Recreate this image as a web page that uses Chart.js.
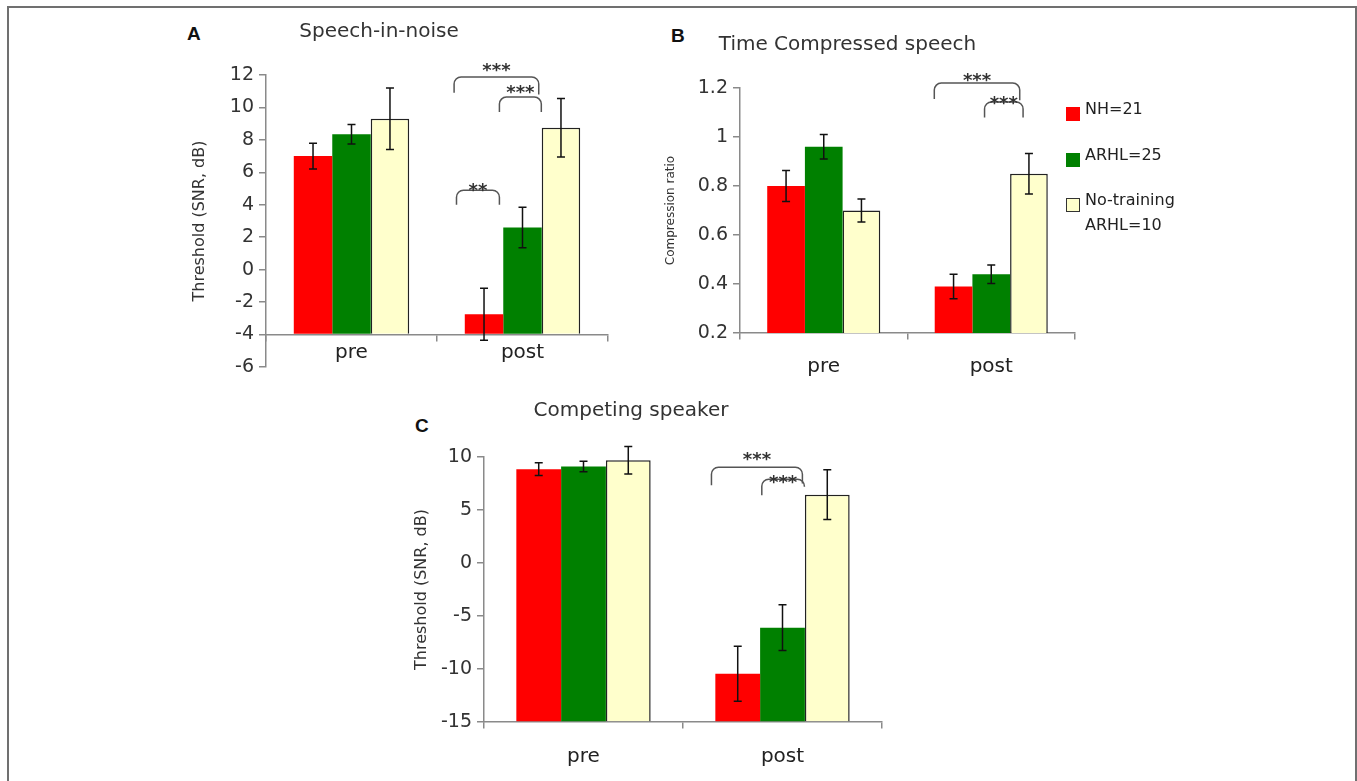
<!DOCTYPE html>
<html>
<head>
<meta charset="utf-8">
<script src="https://cdn.jsdelivr.net/npm/chart.js@4.4.1/dist/chart.umd.min.js"></script>
<style>
html, body { margin: 0; padding: 0; background: #fff; }
#page { position: relative; width: 1357px; height: 781px; overflow: hidden; font-family: "DejaVu Sans", sans-serif; }
#frame { position: absolute; left: 7px; top: 6px; width: 1350px; height: 800px; box-sizing: border-box;
         border: 2px solid #707070; border-bottom: none; }
canvas { position: absolute; }
.panel { position: absolute; font: bold 19px "Liberation Sans", Arial, sans-serif; color: #111; line-height: 19px; }
.leg-box { position: absolute; width: 14px; height: 14px; box-sizing: border-box; }
.leg-txt { position: absolute; font-size: 16px; line-height: 25px; color: #222; width: 100px; }
</style>
</head>
<body>
<div id="page">
  <div id="frame"></div>
  <div class="panel" style="left:187px;top:24px">A</div>
  <div class="panel" style="left:671px;top:26px">B</div>
  <div class="panel" style="left:415px;top:416px">C</div>
  <canvas id="chartA" width="540" height="400" style="left:150px;top:0px"></canvas>
  <canvas id="chartB" width="532" height="400" style="left:620px;top:0px"></canvas>
  <canvas id="chartC" width="586" height="401" style="left:380px;top:380px"></canvas>
  <div id="legend"></div>
</div>
<script>
// grupos y series
const groups = ['pre', 'post'];
const seriesNames = ['NH=21', 'ARHL=25', 'No-training ARHL=10'];
const seriesColors = ['#ff0000', '#008000', '#ffffcc'];

// A: Speech-in-noise (umbral SNR, dB)
const sinNH = [7.0, -2.75];
const sinNHErr = [0.8, 1.6];
const sinARHL = [8.35, 2.6];
const sinARHLErr = [0.6, 1.25];
const sinNoTr = [9.3, 8.75];
const sinNoTrErr = [1.9, 1.8];

// B: Time compressed speech (compression ratio)
const tcsNH = [0.80, 0.39];
const tcsNHErr = [0.063, 0.05];
const tcsARHL = [0.96, 0.44];
const tcsARHLErr = [0.05, 0.038];
const tcsNoTr = [0.70, 0.85];
const tcsNoTrErr = [0.047, 0.083];

// C: Competing speaker (umbral SNR, dB)
const csNH = [8.85, -10.45];
const csNHErr = [0.6, 2.6];
const csARHL = [9.1, -6.1];
const csARHLErr = [0.5, 2.15];
const csNoTr = [9.7, 6.45];
const csNoTrErr = [1.3, 2.35];

const FONT = '"DejaVu Sans", sans-serif';
const AXIS = '#8a8a8a';

// Barras de error (media +/- error)
const errorBars = {
    id: 'errorBars',
    afterDatasetsDraw(chart) {
        const ctx = chart.ctx, y = chart.scales.y;
        ctx.save();
        ctx.strokeStyle = '#111';
        ctx.lineWidth = 1.5;
        chart.data.datasets.forEach((ds, i) => {
            chart.getDatasetMeta(i).data.forEach((bar, j) => {
                const top = y.getPixelForValue(ds.data[j] + ds.err[j]);
                const bot = y.getPixelForValue(ds.data[j] - ds.err[j]);
                ctx.beginPath();
                ctx.moveTo(bar.x, top); ctx.lineTo(bar.x, bot);
                ctx.moveTo(bar.x - 4, top); ctx.lineTo(bar.x + 4, top);
                ctx.moveTo(bar.x - 4, bot); ctx.lineTo(bar.x + 4, bot);
                ctx.stroke();
            });
        });
        ctx.restore();
    }
};

// Llaves de significancia con asteriscos
const brackets = {
    id: 'brackets',
    afterDraw(chart, args, opts) {
        const x = chart.scales.x, y = chart.scales.y, ctx = chart.ctx;
        ctx.save();
        ctx.strokeStyle = '#555';
        ctx.lineWidth = 1.5;
        ctx.fillStyle = '#333';
        ctx.font = 'bold 18px ' + FONT;
        ctx.textAlign = 'center';
        ctx.textBaseline = 'alphabetic';
        (opts.items || []).forEach(b => {
            const x0 = x.getPixelForValue(b.from), x1 = x.getPixelForValue(b.to);
            const yt = y.getPixelForValue(b.top);
            const y0 = y.getPixelForValue(b.endL), y1 = y.getPixelForValue(b.endR);
            const r = 7;
            ctx.beginPath();
            ctx.moveTo(x0, y0);
            ctx.arcTo(x0, yt, x0 + r, yt, r);
            ctx.arcTo(x1, yt, x1, y1, r);
            ctx.lineTo(x1, y1);
            ctx.stroke();
            ctx.fillText(b.label, (x0 + x1) / 2, y.getPixelForValue(b.textAt) + 11);
        });
        ctx.restore();
    }
};

function barSets(values, errs, base) {
    return values.map((v, i) => ({
        label: seriesNames[i],
        data: v,
        err: errs[i],
        base: base,
        backgroundColor: seriesColors[i],
        borderColor: i === 2 ? '#222' : seriesColors[i],
        borderWidth: i === 2 ? 1.5 : 0,
        categoryPercentage: 0.675,
        barPercentage: 1
    }));
}

function yAxis(min, max, step, title, titleSize, titlePad, width) {
    return {
        min: min, max: max,
        ticks: { stepSize: step, color: '#333', font: { family: FONT, size: 19 }, padding: 5,
                 callback: v => String(+v.toFixed(2)) },
        grid: { drawOnChartArea: false, tickLength: 7, color: AXIS, lineWidth: 1.5 },
        border: { color: AXIS, width: 1.5 },
        title: { display: true, text: title, color: '#333', font: { family: FONT, size: titleSize },
                 padding: { top: titlePad, bottom: 0 } },
        afterFit: s => { s.width = width; s.paddingTop = 0; s.paddingBottom = 0; }
    };
}

function xAxis(atY, pad) {
    return {
        type: 'category',
        offset: true,
        position: { y: atY },
        ticks: { color: '#222', font: { family: FONT, size: 20 }, padding: pad },
        grid: { offset: true, drawOnChartArea: false, tickLength: 6, color: AXIS, lineWidth: 1.5 },
        border: { color: AXIS, width: 1.5 },
        afterFit: s => { s.paddingLeft = 0; s.paddingRight = 0; }
    };
}

function makeChart(id, cfg) {
    new Chart(document.getElementById(id), {
        type: 'bar',
        data: { labels: groups, datasets: cfg.datasets },
        options: {
            responsive: false,
            animation: false,
            layout: { padding: cfg.padding },
            scales: { x: cfg.x, y: cfg.y },
            plugins: {
                legend: { display: false },
                tooltip: { enabled: false },
                title: { display: true, text: cfg.title, color: '#333',
                         font: { family: FONT, size: 20, weight: 'normal' }, padding: cfg.titlePad },
                brackets: { items: cfg.brackets }
            }
        },
        plugins: [errorBars, brackets]
    });
}

makeChart('chartA', {
    title: 'Speech-in-noise',
    titlePad: { top: 20, bottom: 31 },
    padding: { left: 0, right: 82, top: 0, bottom: 33 },
    datasets: barSets([sinNH, sinARHL, sinNoTr], [sinNHErr, sinARHLErr, sinNoTrErr], -4),
    x: xAxis(-4, 0),
    y: yAxis(-6, 12, 2, 'Threshold (SNR, dB)', 16, 40, 116),
    brackets: [
        { from: 0.60, to: 1.095, top: 11.88, endL: 10.9, endR: 10.8, label: '***', textAt: 12.6 },
        { from: 0.865, to: 1.11, top: 10.64, endL: 9.72, endR: 9.72, label: '***', textAt: 11.26 },
        { from: 0.614, to: 0.865, top: 4.9, endL: 4.0, endR: 4.0, label: '**', textAt: 5.2 }
    ]
});

makeChart('chartB', {
    title: 'Time Compressed speech',
    titlePad: { top: 33, bottom: 31 },
    padding: { left: 0, right: 77, top: 0, bottom: 67 },
    datasets: barSets([tcsNH, tcsARHL, tcsNoTr], [tcsNHErr, tcsARHLErr, tcsNoTrErr]),
    x: xAxis(0.2, 16),
    y: yAxis(0.2, 1.2, 0.2, 'Compression ratio', 12, 44, 120),
    brackets: [
        { from: 0.66, to: 1.17, top: 1.22, endL: 1.155, endR: 1.15, label: '***', textAt: 1.253 },
        { from: 0.96, to: 1.19, top: 1.143, endL: 1.08, endR: 1.08, label: '***', textAt: 1.16 }
    ]
});

makeChart('chartC', {
    title: 'Competing speaker',
    titlePad: { top: 19, bottom: 34 },
    padding: { left: 0, right: 84, top: 0, bottom: 59 },
    datasets: barSets([csNH, csARHL, csNoTr], [csNHErr, csARHLErr, csNoTrErr], -15),
    x: xAxis(-15, 17),
    y: yAxis(-15, 10, 5, 'Threshold (SNR, dB)', 16, 32, 104),
    brackets: [
        { from: 0.643, to: 1.10, top: 9.03, endL: 7.34, endR: 7.5, label: '***', textAt: 10.25 },
        { from: 0.896, to: 1.11, top: 7.9, endL: 6.4, endR: 7.2, label: '***', textAt: 8.1 }
    ]
});

// Leyenda (a la derecha del panel B)
const legend = document.getElementById('legend');
seriesNames.forEach((name, i) => {
    const top = 107 + i * 45.5;
    const box = document.createElement('div');
    box.className = 'leg-box';
    box.style.left = '1066px';
    box.style.top = top + 'px';
    box.style.background = seriesColors[i];
    if (i === 2) box.style.border = '1.5px solid #333';
    legend.appendChild(box);
    const txt = document.createElement('div');
    txt.className = 'leg-txt';
    txt.style.left = '1085px';
    txt.style.top = (top - 11) + 'px';
    txt.textContent = name;
    legend.appendChild(txt);
});
</script>
</body>
</html>
